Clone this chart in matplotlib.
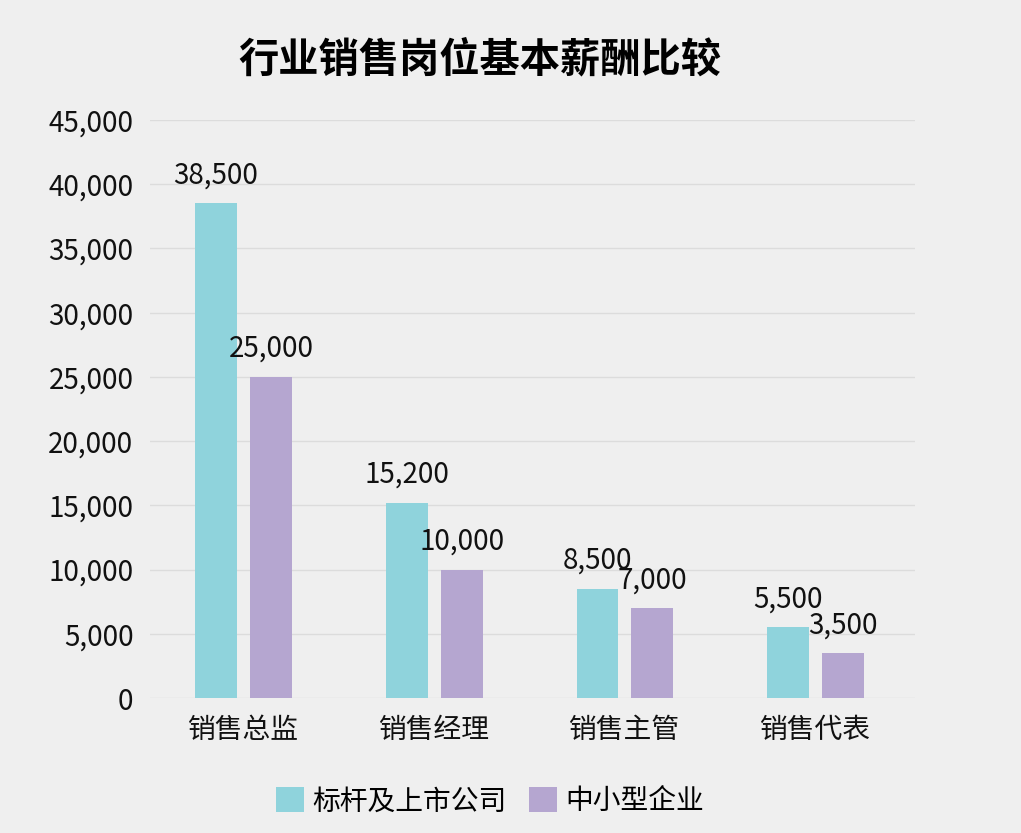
import numpy as np
import matplotlib.pyplot as plt

plt.rcParams['font.family'] = ['Noto Sans CJK SC', 'DejaVu Sans']

categories = ["销售总监", "销售经理", "销售主管", "销售代表"]
series_names = ["标杆及上市公司", "中小型企业"]
listed = [38500, 15200, 8500, 5500]
sme = [25000, 10000, 7000, 3500]
colors = ["#8fd3dc", "#b5a6d0"]

fig = plt.figure(figsize=(10.21, 8.33), dpi=100)
fig.patch.set_facecolor("#efefef")
ax = fig.add_axes([0.147, 0.162, 0.749, 0.694])
ax.set_facecolor("#efefef")

x = np.arange(len(categories))
w = 0.22
off = 0.144
b1 = ax.bar(x - off, listed, w, color=colors[0], label=series_names[0], zorder=3)
b2 = ax.bar(x + off, sme, w, color=colors[1], label=series_names[1], zorder=3)
for bars in (b1, b2):
    for r in bars:
        ax.text(r.get_x() + r.get_width() / 2, r.get_height() + 1000, f"{int(r.get_height()):,}",
                ha="center", va="bottom", fontsize=20, color="#111111", zorder=4)

ax.set_ylim(0, 45000)
ax.set_xlim(-0.49, 3.52)
ax.set_yticks(np.arange(0, 45001, 5000))
ax.set_yticklabels([f"{v:,}" for v in range(0, 45001, 5000)], fontsize=20)
ax.set_xticks(x)
ax.set_xticklabels(categories, fontsize=20)
ax.grid(axis="y", color="#dcdcdc", linewidth=1, zorder=0)
for s in ax.spines.values():
    s.set_visible(False)
ax.tick_params(length=0, pad=12, colors="#111111")

fig.text(0.47, 0.928, "行业销售岗位基本薪酬比较", ha="center", va="center",
         fontsize=29, fontweight="bold")
fig.legend(loc="center", bbox_to_anchor=(0.48, 0.038), ncol=2, frameon=False,
           fontsize=20, handlelength=1.0, handleheight=1.0, columnspacing=0.8, handletextpad=0.3)

fig.savefig("out.png", dpi=100, facecolor=fig.get_facecolor())
